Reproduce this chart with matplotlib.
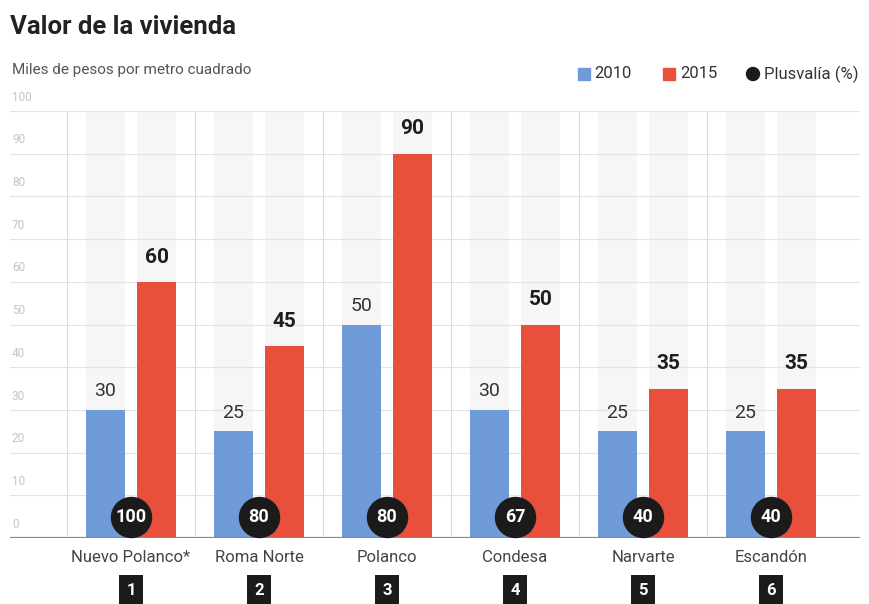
import matplotlib
matplotlib.use("Agg")
import matplotlib.pyplot as plt
import numpy as np

plt.rcParams['font.family'] = ['Roboto', 'DejaVu Sans']

# datos
barrios = ['Nuevo Polanco*', 'Roma Norte', 'Polanco', 'Condesa', 'Narvarte', 'Escandón']
valor_2010 = [30, 25, 50, 30, 25, 25]
valor_2015 = [60, 45, 90, 50, 35, 35]
plusvalia = [100, 80, 80, 67, 40, 40]
ticks_y = [0, 10, 20, 30, 40, 50, 60, 70, 80, 90, 100]

azul = '#6f9bd8'
rojo = '#e8503c'
negro = '#1b1b1b'

fig = plt.figure(figsize=(8.7, 6.04), dpi=100)
ax = fig.add_axes([10/870, 66/604, 850/870, 427/604])

x = np.arange(len(barrios))
ancho = 0.3
desp = 0.2

ax.set_xlim(-0.945, 5.695)
ax.set_ylim(0, 100)

# fondo gris de las columnas
for xi in x:
    for d in (-desp, desp):
        ax.axvspan(xi + d - ancho/2, xi + d + ancho/2, color='#f6f6f6', zorder=0, lw=0)
# separadores verticales
for xi in x:
    ax.axvline(xi - 0.5, color='#dedede', lw=0.8, zorder=0.5)
# rejilla horizontal
for t in ticks_y[1:]:
    ax.axhline(t, color='#e3e3e3', lw=0.8, zorder=0.5)
for t in ticks_y:
    ax.annotate(str(t), xy=(-0.93, t), xytext=(0, 10), textcoords='offset points',
                fontsize=8.5, color='#c4c4c4', ha='left', va='center')
ax.axhline(0, color='#8a8a8a', lw=1.6, zorder=5)

ax.bar(x - desp, valor_2010, ancho, color=azul, zorder=2)
ax.bar(x + desp, valor_2015, ancho, color=rojo, zorder=2)

for xi, v in zip(x, valor_2010):
    ax.annotate(str(v), xy=(xi - desp, v), xytext=(0, 7), textcoords='offset points',
                ha='center', va='bottom', fontsize=14, color='#333333')
for xi, v in zip(x, valor_2015):
    ax.annotate(str(v), xy=(xi + desp, v), xytext=(0, 11), textcoords='offset points',
                ha='center', va='bottom', fontsize=15, fontweight='bold', color='#1e1e1e')

# circulos de plusvalia
ax.scatter(x, [4.9]*len(x), s=830, color=negro, zorder=6)
for xi, p in zip(x, plusvalia):
    ax.text(xi, 4.9, str(p), ha='center', va='center', color='white',
            fontsize=13, fontweight='bold', zorder=7)

# etiquetas de barrios
trans = ax.get_xaxis_transform()
for i, (xi, b) in enumerate(zip(x, barrios)):
    ax.text(xi, -0.045, b, transform=trans, ha='center', va='center',
            fontsize=12, color='#444444', clip_on=False)
    ax.text(xi, -0.122, str(i + 1), transform=trans, ha='center', va='center',
            fontsize=12, fontweight='bold', color='white', clip_on=False,
            bbox=dict(boxstyle='square,pad=0.45', fc=negro, ec='none'))

ax.axis('off')

fig.text(10/870, 1 - 27/604, 'Valor de la vivienda', fontsize=18.5, fontweight='bold',
         color='#222222', ha='left', va='center')
fig.text(12/870, 1 - 70/604, 'Miles de pesos por metro cuadrado', fontsize=11,
         color='#555555', ha='left', va='center')

# leyenda
ly = 1 - 74/604
fig.patches.append(plt.Rectangle((578/870, ly - 6/604), 12/870, 12/604,
                                 transform=fig.transFigure, color=azul))
fig.text(594/870, ly, '2010', fontsize=12, color='#333333', va='center')
fig.patches.append(plt.Rectangle((663/870, ly - 6/604), 12/870, 12/604,
                                 transform=fig.transFigure, color=rojo))
fig.text(680/870, ly, '2015', fontsize=12, color='#333333', va='center')
fig.patches.append(matplotlib.patches.Ellipse((753/870, ly), 13/870, 13/604,
                                              transform=fig.transFigure, color=negro))
fig.text(764/870, ly, 'Plusvalía (%)', fontsize=12, color='#333333', va='center')

fig.savefig('out.png', dpi=100, facecolor='white')
